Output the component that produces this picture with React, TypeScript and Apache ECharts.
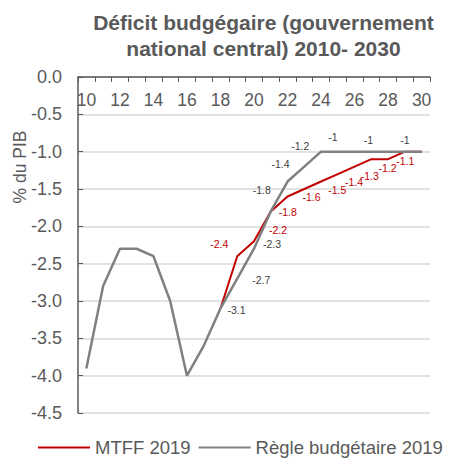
import React, { useEffect, useRef } from "react";
import * as echarts from "echarts";

const years = [2010, 2011, 2012, 2013, 2014, 2015, 2016, 2017, 2018, 2019, 2020, 2021, 2022, 2023, 2024, 2025, 2026, 2027, 2028, 2029, 2030];
const mtff2019 = [null, null, null, null, null, null, null, null, -3.1, -2.4, -2.2, -1.8, -1.6, -1.5, -1.4, -1.3, -1.2, -1.1, -1.1, -1.0, -1.0];
const regle2019 = [-3.9, -2.8, -2.3, -2.3, -2.4, -3.0, -4.0, -3.6, -3.1, -2.7, -2.3, -1.8, -1.4, -1.2, -1, -1, -1, -1, -1, -1, -1];
const seriesNames = ["MTFF 2019", "Règle budgétaire 2019"];
const yTicks = [0, -0.5, -1, -1.5, -2, -2.5, -3, -3.5, -4, -4.5];

// label placement (offset of label centre from the point), keyed by year
const mtffLabelOffsets: Record<number, [number, number]> = {
  2019: [-18, -12],
  2020: [24, -11],
  2021: [17, 1],
  2022: [24, 1],
  2023: [33, 1],
  2024: [33, 0],
  2025: [32, 2],
  2026: [33, 1],
  2027: [34, 2],
};
const regleLabelOffsets: Record<number, [number, number]> = {
  2018: [16, 1.5],
  2019: [24, 1],
  2020: [18, -5],
  2021: [-9, -21],
  2022: [-7, -18],
  2023: [-4, -21],
  2025: [-5, -15],
  2027: [-3, -12],
  2029: [0, -12],
};

const RED = "#c00000";
const GREY = "#808080";
const TXT = "#595959";
const FONT = "Liberation Sans";

function buildData(values: (number | null)[], offsets: Record<number, [number, number]>, color: string) {
  return values.map((v, i) => {
    const off = offsets[years[i]];
    if (v === null) return { value: null };
    if (!off) return { value: v, label: { show: false } };
    return {
      value: v,
      label: {
        show: true,
        position: "inside",
        offset: off,
        color,
        fontSize: 10.5,
        fontFamily: FONT,
        formatter: (p: any) => String(p.value),
      },
    };
  });
}

export default function App() {
  const ref = useRef<HTMLDivElement>(null);
  useEffect(() => {
    document.body.style.margin = "0";
    if (!ref.current) return;
    const chart = echarts.init(ref.current, null, { renderer: "svg" });
    chart.setOption({
      animation: false,
      textStyle: { fontFamily: FONT },
      graphic: [
        {
          type: "text",
          x: 263.5,
          y: 9.5,
          style: {
            text: "Déficit budgégaire (gouvernement\nnational central) 2010- 2030",
            fill: TXT,
            fontFamily: FONT,
            fontSize: 21,
            fontWeight: "bold",
            align: "center",
            lineHeight: 26,
          },
        },
        {
          type: "text",
          x: 20,
          y: 167,
          rotation: Math.PI / 2,
          style: {
            text: "% du PIB",
            fill: TXT,
            fontFamily: FONT,
            fontSize: 17.5,
            align: "center",
            verticalAlign: "middle",
          },
        },
      ],
      legend: {
        data: seriesNames,
        left: 33,
        top: 433,
        icon: "rect",
        itemWidth: 52,
        itemHeight: 2,
        itemGap: 8,
        textStyle: { color: TXT, fontSize: 18.5, fontFamily: FONT },
      },
      grid: { left: 78, right: 28, top: 77, bottom: 45, containLabel: false },
      xAxis: {
        type: "category",
        position: "top",
        data: years,
        boundaryGap: true,
        axisLine: { lineStyle: { color: TXT, width: 1.5 } },
        axisTick: { show: true, inside: true, length: 5, interval: 0, lineStyle: { color: TXT } },
        axisLabel: {
          inside: true,
          interval: 1,
          margin: 14,
          color: TXT,
          fontSize: 17.5,
          fontFamily: FONT,
          formatter: (v: string) => String(v).slice(2),
        },
        splitLine: { show: false },
      },
      yAxis: {
        type: "value",
        min: yTicks[yTicks.length - 1],
        max: yTicks[0],
        interval: 0.5,
        axisLine: { show: true, lineStyle: { color: TXT, width: 1.5 } },
        axisTick: { show: true, inside: true, length: 5, lineStyle: { color: TXT } },
        axisLabel: {
          color: TXT,
          fontSize: 18,
          fontFamily: FONT,
          margin: 16,
          formatter: (v: number) => v.toFixed(1),
        },
        splitLine: { show: true, lineStyle: { color: "#d9d9d9", width: 1.5 } },
      },
      series: [
        {
          name: seriesNames[0],
          type: "line",
          data: buildData(mtff2019, mtffLabelOffsets, RED),
          color: RED,
          lineStyle: { color: RED, width: 2 },
          symbol: "circle",
          symbolSize: 1,
          itemStyle: { color: RED },
          connectNulls: false,
          z: 2,
        },
        {
          name: seriesNames[1],
          type: "line",
          data: buildData(regle2019, regleLabelOffsets, "#404040"),
          color: GREY,
          lineStyle: { color: GREY, width: 2.5 },
          symbol: "circle",
          symbolSize: 1,
          itemStyle: { color: GREY },
          z: 3,
        },
      ],
    });
    return () => chart.dispose();
  }, []);
  return <div ref={ref} style={{ width: 458, height: 458 }} />;
}
